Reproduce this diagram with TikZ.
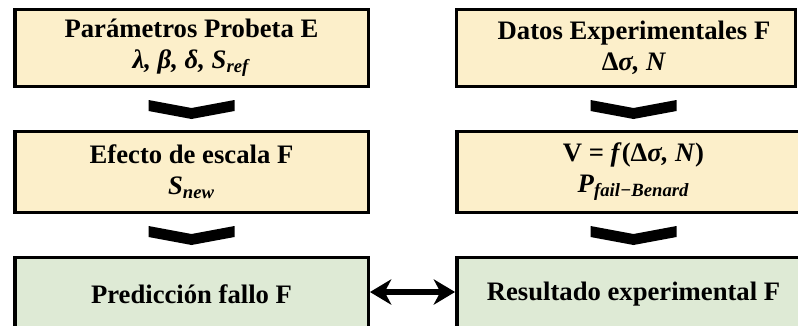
\documentclass[tikz,border=0pt]{standalone}
\usepackage{fontspec}
\setmainfont{Liberation Serif}
\usetikzlibrary{arrows.meta,calc}
\definecolor{ybox}{HTML}{FCEFCA}
\definecolor{gbox}{HTML}{DEEAD5}
\newcommand\bi[1]{\textbf{\textit{#1}}}
\newcommand\sbi[1]{\textsubscript{\textbf{\textit{#1}}}}
\tikzset{chevron/.pic={\fill[black] (-43,-9) -- (0,-1) -- (43,-9) -- (43,2) -- (0,10) -- (-43,2) -- cycle;}}
\begin{document}
\begin{tikzpicture}[x=0.75pt,y=-0.75pt,
  box/.style={draw=black,line width=2.6pt,rectangle,inner sep=0pt,align=center,
    font=\fontsize{20}{23}\selectfont\bfseries},
  ybx/.style={box,fill=ybox},
  gbx/.style={box,fill=gbox},
  txt/.style={inner sep=0pt,align=center,font=\fontsize{20}{23}\selectfont\bfseries},
  dbl/.style={line width=4pt,{Stealth[length=16pt,width=19pt,inset=5pt]}-{Stealth[length=16pt,width=19pt,inset=5pt]}}
]
\useasboundingbox (0,0) rectangle (798,325);
\clip (0,0) rectangle (798,325);
% left column
\node[ybx,minimum width=265.1pt,minimum height=57.4pt] (pe) at (191.5,48)
  {Parámetros Probeta E\\ \bi{λ, β, δ, S}\sbi{ref}};
\node[ybx,minimum width=265.1pt,minimum height=60.4pt] (ee) at (191.5,172)
  {Efecto de escala F\\ \bi{S}\sbi{new}};
\node[gbx,minimum width=265.1pt,minimum height=54.4pt] (pf) at (191.5,294)
  {Predicción fallo F};
% right column
\node[ybx,minimum width=253.9pt,minimum height=57.4pt] (de) at (626,48) {};
\node[txt] (det) at (634,48) {Datos Experimentales F\\ Δ\bi{σ, N}};
\node[ybx,minimum width=265.1pt,minimum height=60.4pt] (vf) at (633.5,172)
  {V = \bi{f}(Δ\bi{σ, N})\\ \bi{P}\sbi{fail−Benard}};
\node[gbx,minimum width=265.1pt,minimum height=54.4pt] (rf) at (633.5,294)
  {Resultado experimental F};
% chevrons
\pic at ($(pe.south)!0.5!(ee.north)$) {chevron};
\pic at ($(ee.south)!0.5!(pf.north)$) {chevron};
\pic at ($(de.south -| vf.north)!0.5!(vf.north)$) {chevron};
\pic at ($(vf.south)!0.5!(rf.north)$) {chevron};
% double arrow
\draw[dbl] ([yshift=1.5pt]pf.east) -- ([yshift=1.5pt]rf.west);
\end{tikzpicture}
\end{document}
